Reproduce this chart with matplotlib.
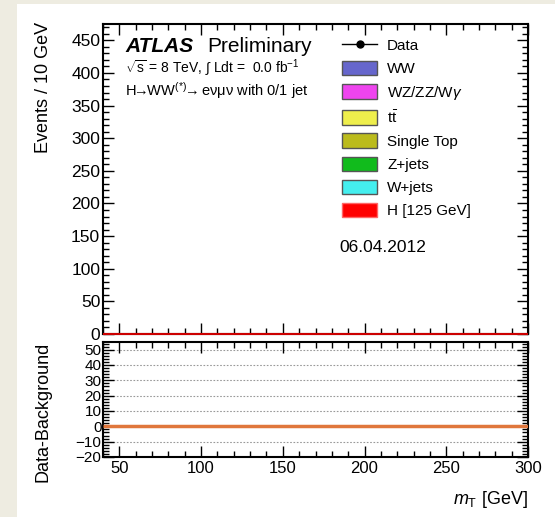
import numpy as np
import matplotlib
matplotlib.use("Agg")
import matplotlib.pyplot as plt
from matplotlib.patches import Rectangle, Patch
from matplotlib.lines import Line2D
from matplotlib.ticker import MultipleLocator

plt.rcParams['font.family'] = ['Liberation Sans', 'DejaVu Sans']
plt.rcParams['mathtext.fontset'] = 'custom'
plt.rcParams['mathtext.rm'] = 'Liberation Sans'
plt.rcParams['mathtext.it'] = 'Liberation Sans:italic'
plt.rcParams['mathtext.bf'] = 'Liberation Sans:bold'

# m_T bins, 10 GeV wide
edges = np.arange(40, 301, 10)
n_bins = len(edges) - 1

# per-bin yields (the plot is empty: 0.0 fb^-1)
data = [0] * n_bins
ww = [0] * n_bins
wzzz = [0] * n_bins
ttbar = [0] * n_bins
single_top = [0] * n_bins
zjets = [0] * n_bins
wjets = [0] * n_bins
higgs = [0] * n_bins

bkg_names = ["WW", "WZ/ZZ/W$\\gamma$", "t$\\bar{\\mathrm{t}}$", "Single Top", "Z+jets", "W+jets"]
bkg_vals = [ww, wzzz, ttbar, single_top, zjets, wjets]
bkg_colors = ["#6666cc", "#ee44ee", "#eeee4c", "#bbbb1c", "#11bb1c", "#44eeee"]
higgs_color = "#ff0000"

W, H = 555, 517
fig = plt.figure(figsize=(W / 100, H / 100), dpi=100, facecolor="#eeece1")
fig.patches.append(Rectangle((17 / W, 0), 1, (H - 4) / H, transform=fig.transFigure,
                             facecolor="white", edgecolor="none", zorder=-5))


def px_axes(left, top, right, bottom):
    return fig.add_axes([left / W, 1 - bottom / H, (right - left) / W, (bottom - top) / H])


ax = px_axes(103, 24, 528, 334)
rax = px_axes(103, 342, 528, 457)
for a in (ax, rax):
    a.set_facecolor("white")

# stacked backgrounds
base = np.zeros(n_bins)
for vals, col in zip(bkg_vals, bkg_colors):
    top = base + np.array(vals, dtype=float)
    ax.stairs(top, edges, baseline=base, fill=True, color=col, zorder=2)
    base = top
sig_top = base + np.array(higgs, dtype=float)
ax.stairs(sig_top, edges, baseline=base, fill=True, color=higgs_color, zorder=2)
ax.stairs(sig_top, edges, baseline=None, color="#cc0000", lw=1.5, zorder=4, clip_on=False)

# data points (empty bins not drawn)
centers = 0.5 * (edges[1:] + edges[:-1])
d = np.array(data, dtype=float)
mask = d > 0
ax.errorbar(centers[mask], d[mask], yerr=np.sqrt(d[mask]), fmt="o", color="black", ms=4)

ax.set_xlim(40, 300)
ax.set_ylim(0, 475)
ax.xaxis.set_major_locator(MultipleLocator(50))
ax.xaxis.set_minor_locator(MultipleLocator(10))
ax.yaxis.set_major_locator(MultipleLocator(50))
ax.yaxis.set_minor_locator(MultipleLocator(10))
ax.tick_params(labelbottom=False)

# data - background
diff = d - base
rax.stairs(diff, edges, baseline=None, color="#e0773c", lw=2.5, zorder=4)
rax.set_xlim(40, 300)
rax.set_ylim(-20, 55)
rax.xaxis.set_major_locator(MultipleLocator(50))
rax.xaxis.set_minor_locator(MultipleLocator(10))
rax.yaxis.set_major_locator(MultipleLocator(10))
rax.yaxis.set_minor_locator(MultipleLocator(2))
for g in [-10, 10, 20, 30, 40, 50]:
    rax.axhline(g, color="#999999", lw=0.8, ls=(0, (1.5, 1.5)), zorder=1)

for a in (ax, rax):
    a.tick_params(which="both", direction="in", top=True, right=True, width=1.0, color="black")
    a.tick_params(which="major", length=8)
    a.tick_params(which="minor", length=4)
    for s in a.spines.values():
        s.set_linewidth(1.5)
ax.tick_params(axis="y", labelsize=12.5, pad=2)
rax.tick_params(axis="y", labelsize=11, pad=1)
rax.tick_params(axis="x", labelsize=12, pad=3)

fig.text(43 / W, 1 - 22 / H, "Events / 10 GeV", rotation=90, ha="center", va="top", fontsize=13)
fig.text(43 / W, 1 - 342 / H, "Data-Background", rotation=90, ha="center", va="top", fontsize=13)
fig.text(528 / W, 1 - 500 / H, "$m_\\mathrm{T}$ [GeV]", ha="right", va="center", fontsize=13)

# ATLAS label
fig.text(125 / W, 1 - 46 / H, "ATLAS", fontsize=15, fontweight="bold", fontstyle="italic", va="center")
fig.text(207 / W, 1 - 46 / H, "Preliminary", fontsize=15, va="center")
fig.text(125 / W, 1 - 68 / H, "$\\sqrt{\\mathrm{s}}$ = 8 TeV, $\\int$ Ldt =  0.0 fb$^{-1}$", fontsize=10, va="center")
fig.text(125 / W, 1 - 91 / H,
         "H$\\!\\!\\rightarrow\\!\\!$WW$^{(*)}$$\\!\\!\\rightarrow\\!\\!$ e\u03bd\u03bc\u03bd with 0/1 jet",
         fontsize=10.5, va="center")
fig.text(339 / W, 1 - 247 / H, "06.04.2012", fontsize=12.5, va="center")

# legend
handles = [Line2D([0], [0], color="black", marker="o", ms=5, lw=1)]
labels = ["Data"]
for name, col in zip(bkg_names, bkg_colors):
    handles.append(Patch(facecolor=col, edgecolor="#555555", lw=1))
    labels.append(name)
handles.append(Patch(facecolor=higgs_color, edgecolor="#ff6666", lw=1))
labels.append("H [125 GeV]")
fig.legend(handles, labels, loc="upper left", bbox_to_anchor=(342 / W, 1 - 37.5 / H),
           frameon=False, fontsize=11, borderpad=0, borderaxespad=0,
           handlelength=2.3, handleheight=1.11, handletextpad=0.65, labelspacing=0.49)

fig.savefig("out.png", dpi=100, facecolor=fig.get_facecolor())
